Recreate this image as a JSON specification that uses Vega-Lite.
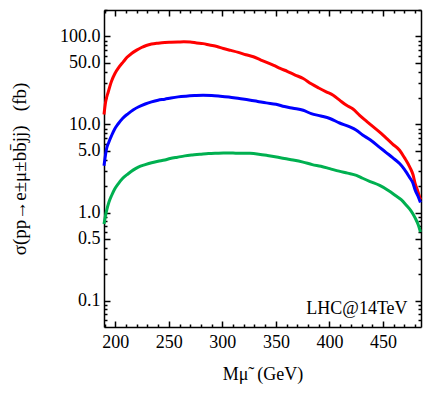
{
  "$schema": "https://vega.github.io/schema/vega-lite/v6.json",
  "width": 317,
  "height": 317,
  "autosize": {"type": "none"},
  "padding": {"left": 104, "top": 10, "right": 11, "bottom": 71},
  "background": "white",
  "config": {
    "view": {"stroke": null},
    "axis": {"labelFont": "Liberation Serif", "titleFont": "Liberation Serif", "labelColor": "black", "titleColor": "black", "titleFontWeight": "normal", "grid": false, "labelFontSize": 18, "titleFontSize": 18}
  },
  "datasets": {
    "curves": [
      {"M": 189.5, "v": 13, "s": "a"}, {"M": 191, "v": 18, "s": "a"}, {"M": 193.5, "v": 23.5, "s": "a"}, {"M": 196.5, "v": 31, "s": "a"}, {"M": 199.7, "v": 38, "s": "a"}, {"M": 203, "v": 44, "s": "a"}, {"M": 207.5, "v": 51.5, "s": "a"}, {"M": 211, "v": 58, "s": "a"}, {"M": 215.2, "v": 64, "s": "a"}, {"M": 220, "v": 70, "s": "a"}, {"M": 224.5, "v": 75, "s": "a"}, {"M": 229, "v": 79, "s": "a"}, {"M": 233.9, "v": 82, "s": "a"}, {"M": 240, "v": 84, "s": "a"}, {"M": 246.3, "v": 85.5, "s": "a"}, {"M": 252, "v": 86, "s": "a"}, {"M": 258.7, "v": 86.5, "s": "a"}, {"M": 264, "v": 87, "s": "a"}, {"M": 270, "v": 86.5, "s": "a"}, {"M": 276, "v": 84.5, "s": "a"}, {"M": 282, "v": 83, "s": "a"}, {"M": 288, "v": 80, "s": "a"}, {"M": 295, "v": 77, "s": "a"}, {"M": 301, "v": 73, "s": "a"}, {"M": 308, "v": 69.5, "s": "a"}, {"M": 315, "v": 66, "s": "a"}, {"M": 322, "v": 62, "s": "a"}, {"M": 329, "v": 58.8, "s": "a"}, {"M": 336, "v": 54, "s": "a"}, {"M": 342, "v": 50.5, "s": "a"}, {"M": 348, "v": 47, "s": "a"}, {"M": 354, "v": 43.4, "s": "a"}, {"M": 361, "v": 40, "s": "a"}, {"M": 368, "v": 36.5, "s": "a"}, {"M": 375.5, "v": 33.3, "s": "a"}, {"M": 383, "v": 29, "s": "a"}, {"M": 390, "v": 26, "s": "a"}, {"M": 397, "v": 23.5, "s": "a"}, {"M": 403.5, "v": 21.5, "s": "a"}, {"M": 409.5, "v": 18.9, "s": "a"}, {"M": 416, "v": 16.5, "s": "a"}, {"M": 422, "v": 15, "s": "a"}, {"M": 428.2, "v": 12.7, "s": "a"}, {"M": 435, "v": 10.8, "s": "a"}, {"M": 441, "v": 9.4, "s": "a"}, {"M": 446.9, "v": 8.2, "s": "a"}, {"M": 453, "v": 7.0, "s": "a"}, {"M": 459, "v": 6.0, "s": "a"}, {"M": 465.5, "v": 5.1, "s": "a"}, {"M": 470, "v": 4.2, "s": "a"}, {"M": 474.9, "v": 3.3, "s": "a"}, {"M": 478, "v": 2.7, "s": "a"}, {"M": 480.2, "v": 2.1, "s": "a"}, {"M": 482.5, "v": 1.75, "s": "a"}, {"M": 485, "v": 1.4, "s": "a"},
      {"M": 189.5, "v": 3.4, "s": "b"}, {"M": 191.9, "v": 5.3, "s": "b"}, {"M": 194, "v": 6.3, "s": "b"}, {"M": 196.6, "v": 7.5, "s": "b"}, {"M": 199.5, "v": 8.9, "s": "b"}, {"M": 202.8, "v": 10.2, "s": "b"}, {"M": 207, "v": 11.8, "s": "b"}, {"M": 212.1, "v": 13.3, "s": "b"}, {"M": 217, "v": 14.7, "s": "b"}, {"M": 221.5, "v": 15.8, "s": "b"}, {"M": 228, "v": 17.1, "s": "b"}, {"M": 233.9, "v": 18.1, "s": "b"}, {"M": 240, "v": 18.9, "s": "b"}, {"M": 246.3, "v": 19.4, "s": "b"}, {"M": 252, "v": 20, "s": "b"}, {"M": 258.7, "v": 20.6, "s": "b"}, {"M": 266, "v": 21, "s": "b"}, {"M": 274, "v": 21.3, "s": "b"}, {"M": 282, "v": 21.5, "s": "b"}, {"M": 290, "v": 21.4, "s": "b"}, {"M": 298, "v": 21, "s": "b"}, {"M": 306, "v": 20.5, "s": "b"}, {"M": 315.9, "v": 19.7, "s": "b"}, {"M": 325, "v": 19, "s": "b"}, {"M": 333, "v": 18.3, "s": "b"}, {"M": 341, "v": 17.6, "s": "b"}, {"M": 350.1, "v": 17, "s": "b"}, {"M": 358, "v": 16, "s": "b"}, {"M": 366, "v": 15.3, "s": "b"}, {"M": 375.5, "v": 14.5, "s": "b"}, {"M": 383, "v": 13.3, "s": "b"}, {"M": 392, "v": 12.5, "s": "b"}, {"M": 400.4, "v": 11.7, "s": "b"}, {"M": 409.5, "v": 10.4, "s": "b"}, {"M": 418, "v": 9.5, "s": "b"}, {"M": 425.2, "v": 8.6, "s": "b"}, {"M": 431, "v": 7.6, "s": "b"}, {"M": 438, "v": 6.7, "s": "b"}, {"M": 446.9, "v": 5.5, "s": "b"}, {"M": 453, "v": 4.8, "s": "b"}, {"M": 459, "v": 4.2, "s": "b"}, {"M": 465.5, "v": 3.6, "s": "b"}, {"M": 470, "v": 3.1, "s": "b"}, {"M": 474.9, "v": 2.5, "s": "b"}, {"M": 478, "v": 2.15, "s": "b"}, {"M": 480.2, "v": 1.78, "s": "b"}, {"M": 482.5, "v": 1.55, "s": "b"}, {"M": 485, "v": 1.3, "s": "b"},
      {"M": 189.5, "v": 0.74, "s": "c"}, {"M": 191.9, "v": 1.05, "s": "c"}, {"M": 194, "v": 1.3, "s": "c"}, {"M": 196.6, "v": 1.56, "s": "c"}, {"M": 199.5, "v": 1.85, "s": "c"}, {"M": 202.8, "v": 2.12, "s": "c"}, {"M": 207, "v": 2.45, "s": "c"}, {"M": 212.1, "v": 2.76, "s": "c"}, {"M": 217, "v": 3.05, "s": "c"}, {"M": 221.5, "v": 3.28, "s": "c"}, {"M": 228, "v": 3.5, "s": "c"}, {"M": 233.9, "v": 3.68, "s": "c"}, {"M": 240, "v": 3.82, "s": "c"}, {"M": 246.3, "v": 3.95, "s": "c"}, {"M": 251.3, "v": 4.1, "s": "c"}, {"M": 258, "v": 4.25, "s": "c"}, {"M": 265, "v": 4.4, "s": "c"}, {"M": 272, "v": 4.5, "s": "c"}, {"M": 279, "v": 4.58, "s": "c"}, {"M": 287, "v": 4.68, "s": "c"}, {"M": 295, "v": 4.72, "s": "c"}, {"M": 301, "v": 4.74, "s": "c"}, {"M": 310, "v": 4.73, "s": "c"}, {"M": 318, "v": 4.72, "s": "c"}, {"M": 325.8, "v": 4.7, "s": "c"}, {"M": 334, "v": 4.6, "s": "c"}, {"M": 342, "v": 4.45, "s": "c"}, {"M": 350.6, "v": 4.27, "s": "c"}, {"M": 358, "v": 4.1, "s": "c"}, {"M": 366, "v": 3.95, "s": "c"}, {"M": 375.4, "v": 3.74, "s": "c"}, {"M": 384, "v": 3.5, "s": "c"}, {"M": 392, "v": 3.35, "s": "c"}, {"M": 400.3, "v": 3.15, "s": "c"}, {"M": 409, "v": 2.95, "s": "c"}, {"M": 417, "v": 2.8, "s": "c"}, {"M": 425.2, "v": 2.64, "s": "c"}, {"M": 431, "v": 2.45, "s": "c"}, {"M": 438, "v": 2.25, "s": "c"}, {"M": 446.9, "v": 2.03, "s": "c"}, {"M": 455, "v": 1.78, "s": "c"}, {"M": 462, "v": 1.55, "s": "c"}, {"M": 467, "v": 1.4, "s": "c"}, {"M": 472, "v": 1.2, "s": "c"}, {"M": 476, "v": 1.05, "s": "c"}, {"M": 480, "v": 0.87, "s": "c"}, {"M": 483, "v": 0.72, "s": "c"}, {"M": 485, "v": 0.6, "s": "c"}
    ],
    "note": [{"M": 473, "v": 0.081, "label": "LHC@14TeV"}]
  },
  "data": {"name": "curves"},
  "resolve": {"axis": {"x": "independent", "y": "independent"}},
  "layer": [
    {
      "mark": {"type": "line", "strokeWidth": 3, "interpolate": "monotone"},
      "encoding": {
        "x": {"field": "M", "type": "quantitative", "scale": {"domain": [189.5, 485.5], "nice": false, "zero": false},
          "axis": {"orient": "bottom", "values": [200, 250, 300, 350, 400, 450], "ticks": false, "domain": true, "domainColor": "#000000", "domainWidth": 1.5, "labelPadding": 6, "labelFont": "Liberation Serif", "labelFontSize": 18, "labelColor": "black", "titleFont": "Liberation Serif", "titleFontSize": 18, "titleColor": "black", "titleFontWeight": "normal", "title": "Mμ̃\u00a0\u00a0(GeV)", "titlePadding": 14}},
        "y": {"field": "v", "type": "quantitative", "scale": {"type": "log", "domain": [0.05, 200], "nice": false},
          "axis": {"orient": "left", "values": [0.1, 0.5, 1, 5, 10, 50, 100], "format": ".1f", "ticks": false, "domain": true, "domainColor": "#000000", "domainWidth": 1.5, "labelPadding": 4, "labelFont": "Liberation Serif", "labelFontSize": 18, "labelColor": "black", "titleFont": "Liberation Serif", "titleColor": "black", "titleFontWeight": "normal", "title": "σ(pp→e±μ±bb̄jj)\u00a0\u00a0\u00a0(fb)", "titleFontSize": 19, "titlePadding": 30}},
        "color": {"field": "s", "type": "nominal", "scale": {"domain": ["a", "b", "c"], "range": ["#ff0000", "#0000ff", "#00b050"]}, "legend": null}
      }
    },
    {
      "mark": {"type": "point", "opacity": 0},
      "encoding": {
        "x": {"field": "M", "type": "quantitative", "axis": {"orient": "bottom", "values": [200, 250, 300, 350, 400, 450], "ticks": true, "tickColor": "#000000", "tickWidth": 1.5, "domain": false, "labels": false, "offset": -6, "tickSize": 6, "title": null}},
        "y": {"field": "v", "type": "quantitative", "axis": {"orient": "left", "values": [0.1, 0.5, 1, 5, 10, 50, 100], "ticks": true, "tickColor": "#000000", "tickWidth": 1.5, "domain": false, "labels": false, "offset": -6, "tickSize": 6, "title": null}}
      }
    },
    {
      "mark": {"type": "point", "opacity": 0},
      "encoding": {
        "x": {"field": "M", "type": "quantitative", "axis": {"orient": "bottom", "values": [190, 210, 220, 230, 240, 260, 270, 280, 290, 310, 320, 330, 340, 360, 370, 380, 390, 410, 420, 430, 440, 460, 470, 480], "ticks": true, "tickColor": "#000000", "tickWidth": 1.5, "domain": false, "labels": false, "offset": -3, "tickSize": 3, "title": null}},
        "y": {"field": "v", "type": "quantitative", "axis": {"orient": "left", "values": [0.06, 0.07, 0.08, 0.09, 0.2, 0.3, 0.4, 0.6, 0.7, 0.8, 0.9, 2, 3, 4, 6, 7, 8, 9, 20, 30, 40, 60, 70, 80, 90, 200], "ticks": true, "tickColor": "#000000", "tickWidth": 1.5, "domain": false, "labels": false, "offset": -3, "tickSize": 3, "title": null}}
      }
    },
    {
      "mark": {"type": "point", "opacity": 0},
      "encoding": {
        "x": {"field": "M", "type": "quantitative", "axis": {"orient": "top", "values": [200, 250, 300, 350, 400, 450], "ticks": true, "tickColor": "#000000", "tickWidth": 1.5, "domain": false, "labels": false, "offset": -6, "tickSize": 6, "title": null}},
        "y": {"field": "v", "type": "quantitative", "axis": {"orient": "right", "values": [0.1, 0.5, 1, 5, 10, 50, 100], "ticks": true, "tickColor": "#000000", "tickWidth": 1.5, "domain": false, "labels": false, "offset": -6, "tickSize": 6, "title": null}}
      }
    },
    {
      "mark": {"type": "point", "opacity": 0},
      "encoding": {
        "x": {"field": "M", "type": "quantitative", "axis": {"orient": "top", "values": [190, 210, 220, 230, 240, 260, 270, 280, 290, 310, 320, 330, 340, 360, 370, 380, 390, 410, 420, 430, 440, 460, 470, 480], "ticks": true, "tickColor": "#000000", "tickWidth": 1.5, "domain": false, "labels": false, "offset": -3, "tickSize": 3, "title": null}},
        "y": {"field": "v", "type": "quantitative", "axis": {"orient": "right", "values": [0.06, 0.07, 0.08, 0.09, 0.2, 0.3, 0.4, 0.6, 0.7, 0.8, 0.9, 2, 3, 4, 6, 7, 8, 9, 20, 30, 40, 60, 70, 80, 90, 200], "ticks": true, "tickColor": "#000000", "tickWidth": 1.5, "domain": false, "labels": false, "offset": -3, "tickSize": 3, "title": null}}
      }
    },
    {
      "mark": {"type": "point", "opacity": 0},
      "encoding": {
        "x": {"field": "M", "type": "quantitative", "axis": {"orient": "top", "ticks": false, "domain": true, "domainColor": "#000000", "domainWidth": 1.5, "labels": false, "title": null}},
        "y": {"field": "v", "type": "quantitative", "axis": {"orient": "right", "ticks": false, "domain": true, "domainColor": "#000000", "domainWidth": 1.5, "labels": false, "title": null}}
      }
    },
    {
      "data": {"name": "note"},
      "mark": {"type": "text", "align": "right", "baseline": "middle", "font": "Liberation Serif", "fontSize": 18, "color": "black"},
      "encoding": {
        "x": {"field": "M", "type": "quantitative", "axis": null},
        "y": {"field": "v", "type": "quantitative", "axis": null},
        "text": {"field": "label"}
      }
    }
  ]
}
